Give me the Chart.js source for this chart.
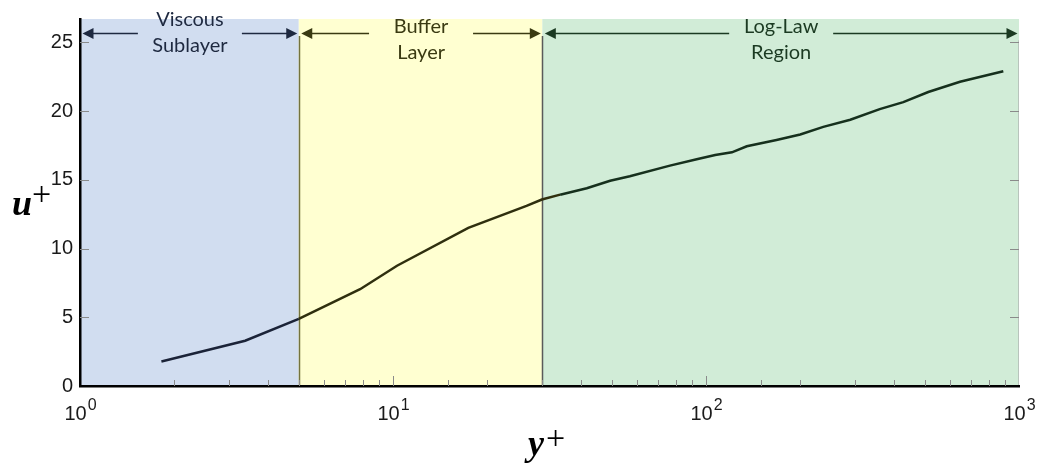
<!DOCTYPE html>
<html lang="en">
<head>
  <meta charset="UTF-8">
  <title>Law of the wall</title>
  <style>
    html, body {
      margin: 0;
      padding: 0;
      background: #fff;
    }

    #chart {
      display: block;
    }
  </style>
</head>
<body>
  <canvas id="chart" width="1038" height="468"></canvas>

  <script src="https://cdn.jsdelivr.net/npm/chart.js@4/dist/chart.umd.min.js"></script>
  <script>
    // velocity profile u+ against y+
    const yPlus = [1.82, 3.37, 5.0, 7.85, 10.3, 17.4, 26.7, 29.9, 34.2, 41.6, 49.4, 57.1, 76.7, 93.4,
      107, 121, 135, 168, 200, 237, 289, 359, 427, 513, 648, 891];
    const uPlus = [1.78, 3.29, 4.88, 7.04, 8.75, 11.5, 13.1, 13.57, 13.92, 14.39, 14.93, 15.26, 16.03, 16.5,
      16.8, 17.0, 17.44, 17.9, 18.3, 18.85, 19.37, 20.14, 20.65, 21.39, 22.13, 22.9];

    const xDecades = [1, 10, 100, 1000];
    const yTicks = [0, 5, 10, 15, 20, 25];

    // y+ limits of the near-wall regions
    const regionEdges = [1, 5, 30, 1000];
    const regionNames = [['Viscous', 'Sublayer'], ['Buffer', 'Layer'], ['Log-Law', 'Region']];

    const regionFill = ['#d1ddf0', '#ffffd1', '#d1ecd7'];
    const regionInk = ['#1e2940', '#3a3a12', '#1b3a22'];
    const lineInk = ['#1b2338', '#2f2f0e', '#16301d'];
    const labelTop = [20, 27, 27];

    function regionOf(v) {
      if (v < regionEdges[1]) return 0;
      if (v < regionEdges[2]) return 1;
      return 2;
    }

    function arrowHead(ctx, x, y, dir) {
      ctx.beginPath();
      ctx.moveTo(x, y);
      ctx.lineTo(x - dir * 11, y - 5.5);
      ctx.lineTo(x - dir * 11, y + 5.5);
      ctx.closePath();
      ctx.fill();
    }

    const wallPlugin = {
      id: 'wall',
      beforeDraw(chart) {
        const { ctx, chartArea: a, scales: { x, y } } = chart;
        ctx.save();
        for (let i = 0; i < regionNames.length; i++) {
          const l = x.getPixelForValue(regionEdges[i]);
          const r = x.getPixelForValue(regionEdges[i + 1]);
          ctx.fillStyle = regionFill[i];
          ctx.fillRect(l, a.top, r - l, a.bottom - a.top);
        }
        // boundaries between regions
        const sepInk = ['#74743e', '#5a5a5a'];
        for (let i = 1; i < regionEdges.length - 1; i++) {
          const px = Math.round(x.getPixelForValue(regionEdges[i])) + 0.5;
          ctx.strokeStyle = sepInk[i - 1];
          ctx.lineWidth = 1.5;
          ctx.beginPath();
          ctx.moveTo(px, a.top + 17);
          ctx.lineTo(px, a.bottom);
          ctx.stroke();
        }
        // faint right frame
        ctx.strokeStyle = '#b8c4bc';
        ctx.lineWidth = 1;
        ctx.beginPath();
        ctx.moveTo(a.right - 0.5, y.getPixelForValue(yTicks[yTicks.length - 1]) - 2);
        ctx.lineTo(a.right - 0.5, a.bottom);
        ctx.stroke();
        ctx.restore();
      },
      beforeDatasetsDraw(chart) {
        const { ctx, chartArea: a, scales: { x, y } } = chart;
        ctx.save();
        ctx.strokeStyle = '#8a8a8a';
        ctx.lineWidth = 1;
        // inward ticks on the y axis, both sides
        yTicks.forEach(v => {
          if (v === 0) return;
          const py = Math.round(y.getPixelForValue(v)) + 0.5;
          ctx.beginPath();
          ctx.moveTo(a.left, py);
          ctx.lineTo(a.left + 9, py);
          ctx.moveTo(a.right - 9, py);
          ctx.lineTo(a.right, py);
          ctx.stroke();
        });
        // inward ticks on the x axis
        x.ticks.forEach(t => {
          const v = t.value;
          if (v <= x.min || v >= x.max) return;
          const lg = Math.log10(v);
          const major = Math.abs(lg - Math.round(lg)) < 1e-9;
          const px = Math.round(x.getPixelForValue(v)) + 0.5;
          ctx.beginPath();
          ctx.moveTo(px, a.bottom);
          ctx.lineTo(px, a.bottom - (major ? 10 : 6));
          ctx.stroke();
        });
        ctx.restore();
      },
      afterDraw(chart) {
        const { ctx, chartArea: a, scales: { x } } = chart;
        ctx.save();

        // region names with arrows out to each edge
        const arrowY = 33.5;
        ctx.textAlign = 'center';
        ctx.textBaseline = 'middle';
        ctx.font = '20px Lato';
        for (let i = 0; i < regionNames.length; i++) {
          const l = x.getPixelForValue(regionEdges[i]) + 2.5;
          const r = x.getPixelForValue(regionEdges[i + 1]) - 1.5;
          const mid = (l + r) / 2;
          ctx.fillStyle = regionInk[i];
          ctx.strokeStyle = regionInk[i];
          ctx.fillText(regionNames[i][0], mid, labelTop[i]);
          ctx.fillText(regionNames[i][1], mid, labelTop[i] + 26);
          ctx.lineWidth = 1.5;
          ctx.beginPath();
          ctx.moveTo(l + 8, arrowY);
          ctx.lineTo(mid - 52, arrowY);
          ctx.moveTo(mid + 52, arrowY);
          ctx.lineTo(r - 8, arrowY);
          ctx.stroke();
          arrowHead(ctx, l, arrowY, -1);
          arrowHead(ctx, r, arrowY, 1);
        }

        // decade labels 10^n
        ctx.fillStyle = '#1a1a1a';
        ctx.textBaseline = 'alphabetic';
        ctx.textAlign = 'left';
        xDecades.forEach(d => {
          const px = x.getPixelForValue(d);
          const exp = String(Math.round(Math.log10(d)));
          ctx.font = '20px "Liberation Sans"';
          const wb = ctx.measureText('10').width;
          ctx.font = '16px "Liberation Sans"';
          const we = ctx.measureText(exp).width;
          const x0 = px - (wb + we) / 2;
          ctx.font = '20px "Liberation Sans"';
          ctx.fillText('10', x0, 420);
          ctx.font = '16px "Liberation Sans"';
          ctx.fillText(exp, x0 + wb + 1, 410);
        });

        // axis titles
        ctx.fillStyle = '#000';
        ctx.font = 'italic bold 36px "Liberation Serif"';
        ctx.fillText('u', 12, 215);
        ctx.fillText('y', 528, 455);
        ctx.font = '34px "Liberation Serif"';
        ctx.textBaseline = 'middle';
        ctx.fillText('+', 32, 196);
        ctx.fillText('+', 546, 440);

        ctx.restore();
      }
    };

    const ctx = document.querySelector('#chart').getContext('2d');
    const config = {
      type: 'line',
      data: {
        datasets: [{
          data: yPlus.map((v, i) => ({ x: v, y: uPlus[i] })),
          borderWidth: 2.5,
          pointRadius: 0,
          fill: false,
          tension: 0,
          segment: {
            borderColor: c => lineInk[regionOf(c.p0.parsed.x)]
          }
        }]
      },
      options: {
        responsive: false,
        animation: false,
        layout: { padding: { top: 6, right: 19, left: 0, bottom: 0 } },
        plugins: {
          legend: { display: false },
          tooltip: { enabled: false }
        },
        scales: {
          x: {
            type: 'logarithmic',
            min: 1,
            max: 1000,
            grid: { display: false, drawTicks: false },
            border: { display: true, color: '#000', width: 2.5 },
            ticks: { display: false },
            afterFit: s => { s.height = 82; }
          },
          y: {
            min: 0,
            max: 26.7,
            grid: { display: false, drawTicks: false },
            border: { display: true, color: '#000', width: 2.5 },
            ticks: {
              stepSize: 5,
              padding: 7,
              color: '#1a1a1a',
              font: { family: '"Liberation Sans"', size: 20 }
            },
            afterBuildTicks: s => {
              s.ticks = yTicks.map(v => ({ value: v }));
            },
            afterFit: s => { s.width = 80; }
          }
        }
      },
      plugins: [wallPlugin]
    };
    const chart = new Chart(ctx, config);
  </script>
</body>
</html>
